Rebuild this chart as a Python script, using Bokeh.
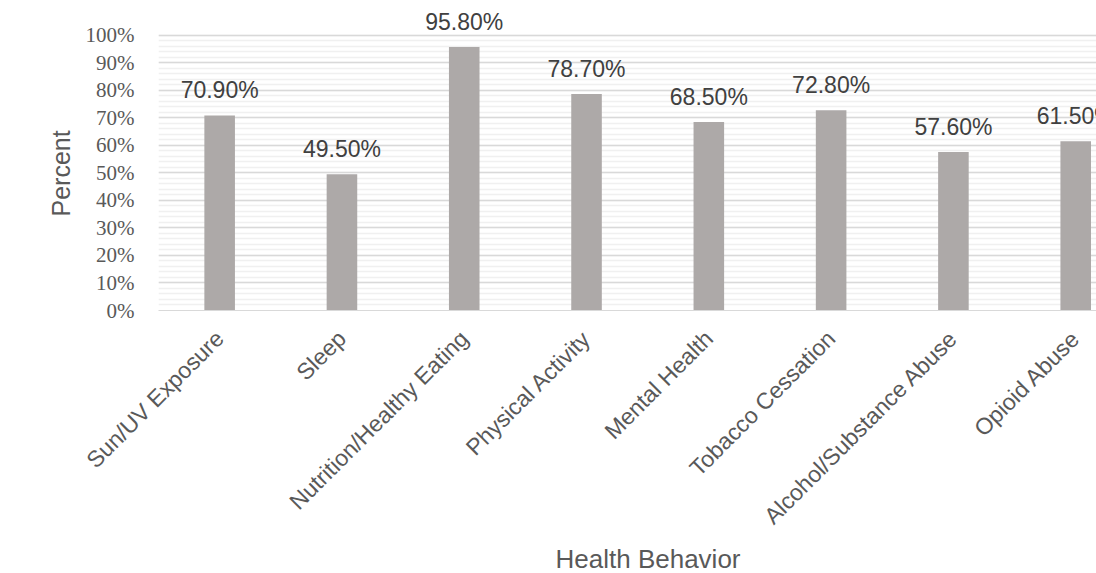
import math
from bokeh.plotting import figure
from bokeh.models import FixedTicker, PrintfTickFormatter, Range1d, Title, ColumnDataSource
from bokeh.core.properties import value
from bokeh.embed import file_html
from bokeh.resources import INLINE

categories = ["Sun/UV Exposure", "Sleep", "Nutrition/Healthy Eating", "Physical Activity",
              "Mental Health", "Tobacco Cessation", "Alcohol/Substance Abuse", "Opioid Abuse"]
percent_values = [70.9, 49.5, 95.8, 78.7, 68.5, 72.8, 57.6, 61.5]
value_labels = ["70.90%", "49.50%", "95.80%", "78.70%", "68.50%", "72.80%", "57.60%", "61.50%"]
y_ticks = [0, 10, 20, 30, 40, 50, 60, 70, 80, 90, 100]
y_minor_ticks = list(range(0, 101, 2))

positions = list(range(len(categories)))
src = ColumnDataSource(dict(x=positions, top=percent_values, label=value_labels))

p = figure(width=1096, height=573, output_backend="svg", toolbar_location=None,
           x_range=Range1d(-0.5, 7.17), y_range=Range1d(0, 112.7),
           min_border_left=158, min_border_right=0, min_border_top=0, min_border_bottom=262)
p.outline_line_color = None
p.background_fill_color = "white"
p.border_fill_color = "white"

p.vbar(x="x", top="top", bottom=0, width=0.25, source=src, fill_color="#ADA9A8", line_color=None)
p.text(x="x", y="top", text="label", source=src, text_align="center", text_baseline="alphabetic",
       y_offset=-25, text_font=value("Liberation Sans"), text_font_size="23px", text_color="#404040")

xa = p.xaxis[0]
xa.ticker = FixedTicker(ticks=positions)
xa.major_label_overrides = {i: c for i, c in enumerate(categories)}
xa.major_label_orientation = math.pi / 4
xa.major_label_text_font = "Liberation Sans"
xa.major_label_text_font_size = "23px"
xa.major_label_text_color = "#595959"
xa.major_tick_line_color = None
xa.minor_tick_line_color = None
xa.major_tick_out = 0
xa.major_label_standoff = 24
xa.axis_line_color = "#D9D9D9"
p.xgrid.grid_line_color = None

ya = p.yaxis[0]
ya.ticker = FixedTicker(ticks=y_ticks, minor_ticks=y_minor_ticks)
ya.formatter = PrintfTickFormatter(format="%d%%")
ya.axis_line_color = None
ya.major_tick_line_color = None
ya.minor_tick_line_color = None
ya.major_tick_out = 0
ya.major_label_standoff = 20
ya.major_label_text_font = "Liberation Serif"
ya.major_label_text_font_size = "21px"
ya.major_label_text_color = "#595959"
p.ygrid.grid_line_color = "#D9D9D9"
p.ygrid.grid_line_width = 1.5
p.ygrid.minor_grid_line_color = "#F0F0F0"
p.ygrid.minor_grid_line_width = 1.5

p.add_layout(Title(text="Percent", align="left", offset=94, standoff=15,
                   text_font="Liberation Sans", text_font_size="25px", text_font_style="normal",
                   text_color="#595959"), "left")
p.add_layout(Title(text="Health Behavior", align="left", offset=397, standoff=0,
                   text_font="Liberation Sans", text_font_size="26px", text_font_style="normal",
                   text_color="#595959"), "below")

open("out.html", "w").write(file_html(p, INLINE))
